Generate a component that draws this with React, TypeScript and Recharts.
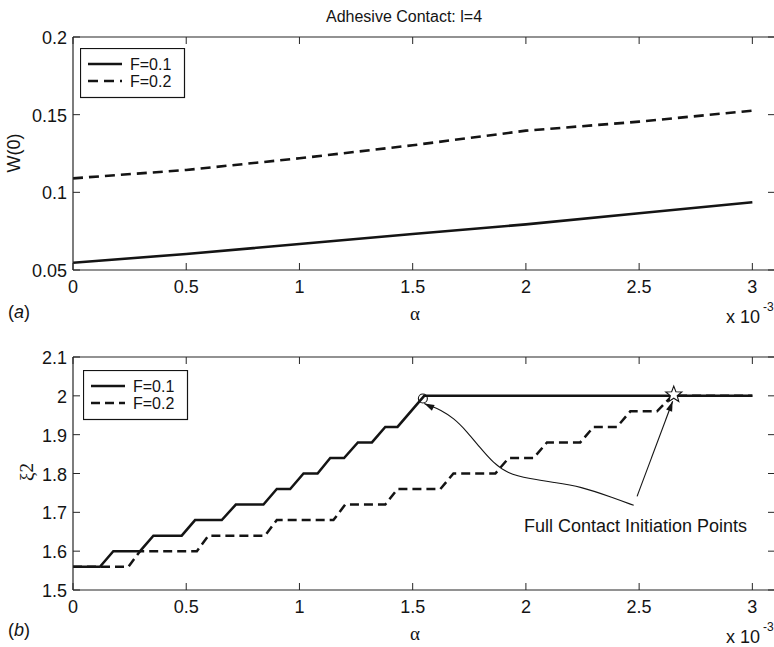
import React from 'react';
import { LineChart, Line, XAxis, YAxis, ReferenceDot, Legend } from 'recharts';

// ---------- data ----------
const seriesNames = ['F=0.1', 'F=0.2'];
const alphaTicks = [0, 0.5, 1, 1.5, 2, 2.5, 3];
const wTicks = [0.05, 0.1, 0.15, 0.2];
const xiTicks = [1.5, 1.6, 1.7, 1.8, 1.9, 2, 2.1];

// panel (a): W(0) vs alpha (x 10^-3)
const wAlpha = [0, 0.5, 1, 1.5, 2, 2.5, 3];
const wF01 = [0.0547, 0.0603, 0.0667, 0.0732, 0.0794, 0.0865, 0.0936];
const wF02 = [0.109, 0.1144, 0.1219, 0.1303, 0.1397, 0.1455, 0.1526];

// panel (b): xi_2 vs alpha (x 10^-3)
const xiF01Alpha = [0, 0.119, 0.178, 0.296, 0.355, 0.48, 0.539, 0.657, 0.719, 0.841, 0.9, 0.959, 1.018, 1.08, 1.136, 1.197, 1.258, 1.32, 1.379, 1.433, 1.551, 3];
const xiF01 = [1.56, 1.56, 1.6, 1.6, 1.64, 1.64, 1.68, 1.68, 1.72, 1.72, 1.76, 1.76, 1.8, 1.8, 1.84, 1.84, 1.88, 1.88, 1.92, 1.92, 2.0, 2.0];
const xiF02Alpha = [0, 0.245, 0.296, 0.547, 0.598, 0.848, 0.9, 1.15, 1.202, 1.379, 1.433, 1.622, 1.68, 1.865, 1.924, 2.034, 2.093, 2.24, 2.299, 2.402, 2.461, 2.579, 2.645, 3];
const xiF02 = [1.56, 1.56, 1.6, 1.6, 1.64, 1.64, 1.68, 1.68, 1.72, 1.72, 1.76, 1.76, 1.8, 1.8, 1.84, 1.84, 1.88, 1.88, 1.92, 1.92, 1.96, 1.96, 2.0, 2.0];

// annotation (full contact initiation points)
const circlePoint = { alpha: 1.545, xi: 1.993 };
const starPoint = { alpha: 2.653, xi: 2.003 };
const curveArrowAlpha = [1.551, 1.578, 1.622, 1.681, 1.74, 1.798, 1.857, 1.916, 2.019, 2.122, 2.24, 2.388, 2.476];
const curveArrowXi = [1.98, 1.975, 1.964, 1.943, 1.908, 1.866, 1.827, 1.801, 1.786, 1.777, 1.767, 1.737, 1.718];
const straightArrowAlpha = [2.491, 2.648];
const straightArrowXi = [1.741, 1.986];
const annotationText = 'Full Contact Initiation Points';

// ---------- helpers ----------
const zip = (xs: number[], ys: number[]) => xs.map((x, i) => ({ x, y: ys[i] }));
const FONT = '"Liberation Sans", Arial, Helvetica, sans-serif';
const SERIF = '"Liberation Serif", "DejaVu Serif", serif';
const INK = '#141414';
const AXIS = '#262626';
const TICK = 7;
const FS = 18;

const BottomTick = (p: any) => (
  <g>
    <line x1={p.x} x2={p.x} y1={p.y} y2={p.y - TICK} stroke={AXIS} strokeWidth={1} />
    <text x={p.x} y={p.y + 23} textAnchor="middle" fontSize={FS} fontFamily={FONT} fill={INK}>
      {String(p.payload.value)}
    </text>
  </g>
);
const TopTick = (p: any) => (
  <line x1={p.x} x2={p.x} y1={p.y} y2={p.y + TICK} stroke={AXIS} strokeWidth={1} />
);
const LeftTick = (p: any) => (
  <g>
    <line x1={p.x} x2={p.x + TICK} y1={p.y} y2={p.y} stroke={AXIS} strokeWidth={1} />
    <text x={p.x - 6} y={p.y + 7} textAnchor="end" fontSize={FS} fontFamily={FONT} fill={INK}>
      {String(p.payload.value)}
    </text>
  </g>
);
const RightTick = (p: any) => (
  <line x1={p.x} x2={p.x - TICK} y1={p.y} y2={p.y} stroke={AXIS} strokeWidth={1} />
);

const LEG_FS = 16;
const LEG_ROW = 17;
const makeLegend = (dashes: Record<string, string | undefined>) => (props: any) => {
  const items = (props.payload || []).filter((e: any) => seriesNames.includes(e.value));
  return (
    <svg width={106} height={51} style={{ display: 'block' }}>
      <rect x={0.5} y={0.5} width={104} height={49} fill="#fff" stroke={INK} strokeWidth={1.2} />
      {items.map((e: any, i: number) => (
        <g key={e.value}>
          <line x1={8} x2={42} y1={16 + i * LEG_ROW} y2={16 + i * LEG_ROW} stroke={INK} strokeWidth={2.6}
            strokeDasharray={dashes[e.value]} />
          <text x={50} y={22 + i * LEG_ROW} fontSize={LEG_FS} fontFamily={FONT} fill={INK}>{e.value}</text>
        </g>
      ))}
    </svg>
  );
};

const Star = (p: any) => {
  const pts: string[] = [];
  for (let k = 0; k < 10; k++) {
    const r = k % 2 === 0 ? 8.5 : 3.6;
    const a = -Math.PI / 2 + (k * Math.PI) / 5;
    pts.push(`${p.cx + r * Math.cos(a)},${p.cy + r * Math.sin(a)}`);
  }
  return <polygon points={pts.join(' ')} fill="#fff" stroke={INK} strokeWidth={1.1} />;
};
const Ring = (p: any) => <circle cx={p.cx} cy={p.cy} r={4.5} fill="none" stroke={INK} strokeWidth={1.1} />;
const arrowHead = (angle: number) => (p: any) => (
  <polygon points="0,0 -10,-3.2 -10,3.2" fill={INK}
    transform={`translate(${p.cx},${p.cy}) rotate(${angle})`} />
);

const CHART_W = 780;
const CHART_H = 330;
// each axis takes 1px of room (axes of zero size are not drawn)
const MARGIN = { top: 36, left: 72, right: 4, bottom: 59 };

const axesFor = (yDomain: number[], yTicks: number[]) => [
  <XAxis key="xb" xAxisId="b" type="number" dataKey="x" domain={[0, 3.1]} ticks={alphaTicks} interval={0}
    height={1} tickSize={0} tickMargin={0} tickLine={false} axisLine={{ stroke: AXIS, strokeWidth: 1.2 }}
    tick={BottomTick} allowDataOverflow />,
  <XAxis key="xt" xAxisId="t" orientation="top" type="number" dataKey="x" domain={[0, 3.1]} ticks={alphaTicks}
    interval={0} height={1} tickSize={0} tickMargin={0} tickLine={false}
    axisLine={{ stroke: AXIS, strokeWidth: 1.2 }} tick={TopTick} allowDataOverflow />,
  <YAxis key="yl" yAxisId="l" type="number" domain={yDomain} ticks={yTicks} interval={0} width={1}
    tickSize={0} tickMargin={0} tickLine={false} axisLine={{ stroke: AXIS, strokeWidth: 1.2 }}
    tick={LeftTick} allowDataOverflow />,
  <YAxis key="yr" yAxisId="r" orientation="right" type="number" domain={yDomain} ticks={yTicks} interval={0}
    width={1} tickSize={0} tickMargin={0} tickLine={false} axisLine={{ stroke: AXIS, strokeWidth: 1.2 }}
    tick={RightTick} allowDataOverflow />,
];

const topDash: Record<string, string | undefined> = { 'F=0.1': undefined, 'F=0.2': '10 6' };
const botDash: Record<string, string | undefined> = { 'F=0.1': undefined, 'F=0.2': '9 5' };

export default function App() {
  const wData = [zip(wAlpha, wF01), zip(wAlpha, wF02)];
  const xiData = [zip(xiF01Alpha, xiF01), zip(xiF02Alpha, xiF02)];
  const curveData = zip(curveArrowAlpha, curveArrowXi);
  const straightData = zip(straightArrowAlpha, straightArrowXi);

  return (
    <div style={{ position: 'absolute', left: 0, top: 0, width: 774, height: 647, overflow: 'hidden', background: '#fff' }}>
      <div style={{ position: 'absolute', left: 0, top: 0 }}>
        <LineChart width={CHART_W} height={CHART_H} margin={MARGIN}>
          {axesFor([0.05, 0.2], wTicks)}
          {seriesNames.map((n, i) => (
            <Line key={n} name={n} xAxisId="b" yAxisId="l" data={wData[i]} dataKey="y" type="linear"
              stroke={INK} strokeWidth={2.6} strokeDasharray={topDash[n]} dot={false} activeDot={false}
              isAnimationActive={false} />
          ))}
          <Legend layout="horizontal" verticalAlign="middle" align="center"
            wrapperStyle={{ left: 80, top: 48, width: 'auto', height: 'auto' }} content={makeLegend(topDash)} />
        </LineChart>
      </div>
      <div style={{ position: 'absolute', left: 0, top: 320 }}>
        <LineChart width={CHART_W} height={CHART_H} margin={MARGIN}>
          {axesFor([1.5, 2.1], xiTicks)}
          {seriesNames.map((n, i) => (
            <Line key={n} name={n} xAxisId="b" yAxisId="l" data={xiData[i]} dataKey="y" type="linear"
              stroke={INK} strokeWidth={2.5} strokeDasharray={botDash[n]} dot={false} activeDot={false}
              isAnimationActive={false} />
          ))}
          <Line name="curve-arrow" legendType="none" xAxisId="b" yAxisId="l" data={curveData} dataKey="y"
            type="basis" stroke={INK} strokeWidth={1.1} dot={false} activeDot={false} isAnimationActive={false} />
          <Line name="straight-arrow" legendType="none" xAxisId="b" yAxisId="l" data={straightData} dataKey="y"
            type="linear" stroke={INK} strokeWidth={1.1} dot={false} activeDot={false} isAnimationActive={false} />
          <ReferenceDot xAxisId="b" yAxisId="l" x={circlePoint.alpha} y={circlePoint.xi} shape={Ring} />
          <ReferenceDot xAxisId="b" yAxisId="l" x={starPoint.alpha} y={starPoint.xi} shape={Star} />
          <ReferenceDot xAxisId="b" yAxisId="l" x={curveArrowAlpha[0]} y={curveArrowXi[0]} shape={arrowHead(205)} />
          <ReferenceDot xAxisId="b" yAxisId="l" x={straightArrowAlpha[1]} y={straightArrowXi[1]} shape={arrowHead(-69.4)} />
          <Legend layout="horizontal" verticalAlign="middle" align="center"
            wrapperStyle={{ left: 83, top: 50, width: 'auto', height: 'auto' }} content={makeLegend(botDash)} />
        </LineChart>
      </div>
      <svg width={774} height={647} style={{ position: 'absolute', left: 0, top: 0, pointerEvents: 'none' }}>
        <text x={404} y={22} textAnchor="middle" fontSize={16} fontFamily={FONT} fill={INK}>Adhesive Contact: l=4</text>
        {/* panel (a) */}
        <text transform="translate(20,153) rotate(-90)" textAnchor="middle" fontSize={FS} fontFamily={FONT} fill={INK}>W(0)</text>
        <text x={415} y={320} textAnchor="middle" fontSize={19} fontFamily={SERIF} fill={INK}>α</text>
        <text x={726} y={323} fontSize={FS} fontFamily={FONT} fill={INK}>x 10</text>
        <text x={763} y={311} fontSize={12} fontFamily={FONT} fill={INK}>-3</text>
        <text x={8} y={318} fontSize={FS} fontFamily={FONT} fill={INK}>(<tspan fontStyle="italic">a</tspan>)</text>
        {/* panel (b) */}
        <text transform="translate(33,472) rotate(-90)" textAnchor="middle" fontSize={19} fontFamily={SERIF} fill={INK}>ξ2</text>
        <text x={415} y={640} textAnchor="middle" fontSize={19} fontFamily={SERIF} fill={INK}>α</text>
        <text x={726} y={643} fontSize={FS} fontFamily={FONT} fill={INK}>x 10</text>
        <text x={763} y={631} fontSize={12} fontFamily={FONT} fill={INK}>-3</text>
        <text x={8} y={636} fontSize={FS} fontFamily={FONT} fill={INK}>(<tspan fontStyle="italic">b</tspan>)</text>
        <text x={524} y={532} fontSize={FS} fontFamily={FONT} fill={INK}>{annotationText}</text>
      </svg>
    </div>
  );
}
